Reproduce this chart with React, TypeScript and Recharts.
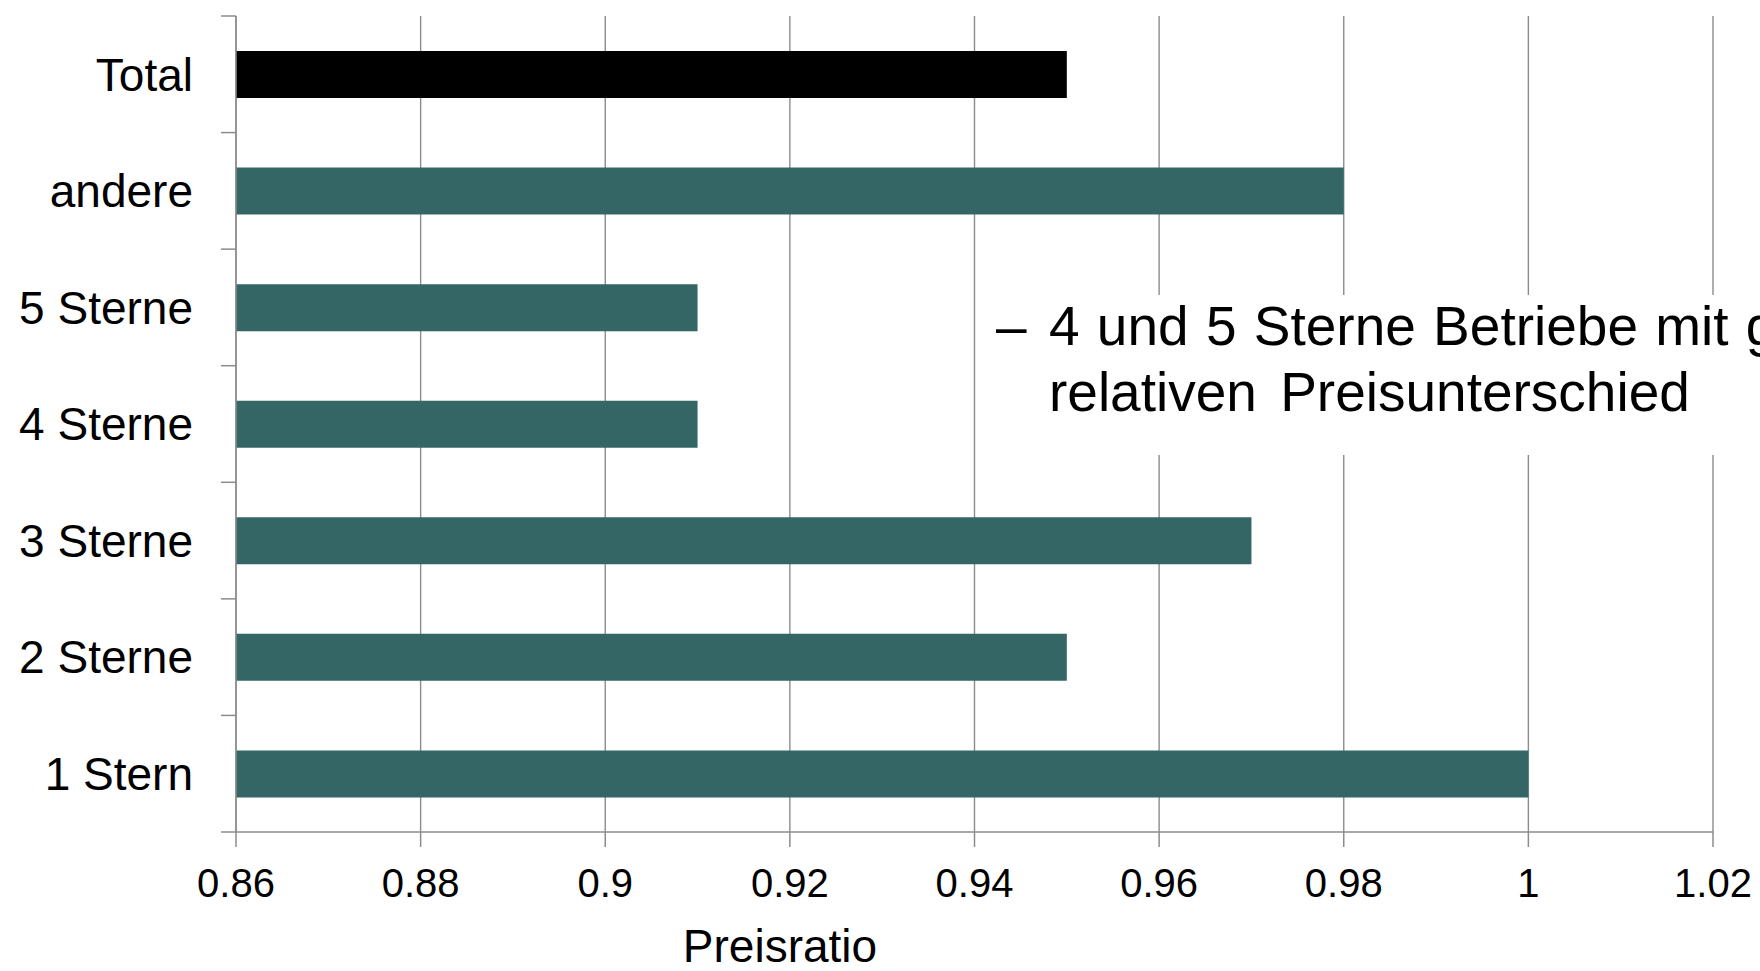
import React from 'react';
import { BarChart, Bar, XAxis, YAxis, CartesianGrid, Cell } from 'recharts';

const categories = ['Total', 'andere', '5 Sterne', '4 Sterne', '3 Sterne', '2 Sterne', '1 Stern'];
const ratios = [0.95, 0.98, 0.91, 0.91, 0.97, 0.95, 1.0];
const xTicks = [0.86, 0.88, 0.9, 0.92, 0.94, 0.96, 0.98, 1, 1.02];
const xDomain = [0.86, 1.02];
const axisTitle = 'Preisratio';
const noteLine1 = '4 und 5 Sterne Betriebe mit g';
const noteLine2 = 'relativen Preisunterschied';

const data = categories.map((name, i) => ({ name, value: ratios[i] }));

const W = 1760;
const H = 971;
const TOP = 16;
const AXIS_X = 236;
const AXIS_Y = 832;
const BAND = (AXIS_Y - TOP) / categories.length;
const FONT = '"Liberation Sans", Arial, Helvetica, sans-serif';
const GRID = '#8c8c8c';
const TEAL = '#356666';

const YTick = (props: any) => {
  const { y, payload, index } = props;
  const lines = [y - BAND / 2];
  if (index === categories.length - 1) lines.push(y + BAND / 2);
  return (
    <g>
      {lines.map((ly, i) => (
        <line key={i} x1={AXIS_X - 15} x2={AXIS_X} y1={ly} y2={ly} stroke={GRID} strokeWidth={1.5} />
      ))}
      <text x={AXIS_X - 43} y={y} dy="0.355em" textAnchor="end" fontSize={46} fill="#000" fontFamily={FONT}>
        {payload.value}
      </text>
    </g>
  );
};

const XLabel = () => (
  <text x={780} y={962} textAnchor="middle" fontSize={46} fill="#000" fontFamily={FONT}>
    {axisTitle}
  </text>
);

export default function App() {
  return (
    <div style={{ position: 'absolute', left: 0, top: 0, width: W, height: H, background: '#fff', overflow: 'hidden' }}>
      <BarChart
        width={W}
        height={H}
        data={data}
        layout="vertical"
        margin={{ top: TOP, right: W - 1713, left: 0, bottom: 0 }}
        barSize={47}
      >
        <CartesianGrid horizontal={false} stroke={GRID} strokeWidth={1.4} />
        <XAxis
          type="number"
          domain={xDomain}
          ticks={xTicks}
          interval={0}
          height={H - AXIS_Y}
          tickSize={15}
          tickMargin={22}
          axisLine={{ stroke: GRID, strokeWidth: 1.5 }}
          tickLine={{ stroke: GRID, strokeWidth: 1.5 }}
          tick={{ fontSize: 40, fill: '#000', fontFamily: FONT }}
          label={<XLabel />}
        />
        <YAxis
          type="category"
          dataKey="name"
          width={AXIS_X}
          axisLine={{ stroke: GRID, strokeWidth: 1.5 }}
          tickLine={false}
          tick={<YTick />}
          interval={0}
        />
        <Bar dataKey="value" isAnimationActive={false}>
          {data.map((d) => (
            <Cell key={d.name} fill={d.name === 'Total' ? '#000000' : TEAL} />
          ))}
        </Bar>
      </BarChart>
      <svg
        width={W}
        height={H}
        style={{ position: 'absolute', left: 0, top: 0, pointerEvents: 'none' }}
      >
        <rect x={982} y={295} width={W - 982} height={160} fill="#fff" />
        <text fontSize={55} fill="#000" fontFamily={FONT}>
          <tspan x={996} y={345}>–</tspan>
          <tspan x={1049} y={345} wordSpacing={2}>{noteLine1}</tspan>
          <tspan x={1049} y={411} wordSpacing={8}>{noteLine2}</tspan>
        </text>
      </svg>
    </div>
  );
}
